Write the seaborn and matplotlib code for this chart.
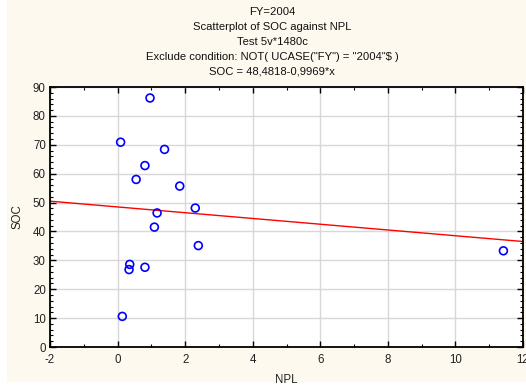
import matplotlib
matplotlib.use("Agg")
import matplotlib.pyplot as plt
import seaborn as sns
import numpy as np
import pandas as pd
from matplotlib.ticker import MultipleLocator
from matplotlib.patches import Rectangle

# Data
npl = [0.96, 0.09, 1.39, 0.81, 0.55, 1.84, 2.30, 1.17, 1.09, 2.39, 0.36, 0.34, 0.81, 0.14, 11.42]
soc = [86.2, 70.9, 68.4, 62.8, 58.0, 55.7, 48.1, 46.4, 41.5, 35.1, 28.6, 26.8, 27.6, 10.6, 33.3]
intercept = 48.4818
slope = -0.9969
title_lines = [
    "FY=2004",
    "Scatterplot of SOC against NPL",
    "Test 5v*1480c",
    'Exclude condition: NOT( UCASE("FY") = "2004"$ )',
    "SOC = 48,4818-0,9969*x",
]

df = pd.DataFrame({"NPL": npl, "SOC": soc})

sns.set_theme(style="white")
plt.rcParams["font.family"] = ["Liberation Sans", "DejaVu Sans"]
plt.rcParams["axes.unicode_minus"] = False

fig = plt.figure(figsize=(5.26, 3.87), dpi=100, facecolor="white")
fig.patches.append(Rectangle((7/526, 5/387), 1 - 7/526, 1 - 5/387, transform=fig.transFigure,
                             facecolor="#FDF9EE", edgecolor="none", zorder=-10))
ax = fig.add_axes([50/526, 1-347/387, 473/526, 260/387])
ax.set_facecolor("white")

xmin, xmax = -2, 12
xs = np.array([xmin, xmax])
ax.plot(xs, intercept + slope * xs, color="red", lw=1.0, zorder=2)

sns.scatterplot(data=df, x="NPL", y="SOC", ax=ax, marker="o", s=32,
                facecolors="none", edgecolor="#0000FF", linewidth=1.2, zorder=3)

ax.set_xlim(xmin, xmax)
ax.set_ylim(0, 90)
ax.xaxis.set_major_locator(MultipleLocator(2))
ax.xaxis.set_minor_locator(MultipleLocator(1))
ax.yaxis.set_major_locator(MultipleLocator(10))
ax.yaxis.set_minor_locator(MultipleLocator(2))
ax.grid(True, which="major", color="#D8D8D8", lw=1.0, zorder=0)
ax.set_axisbelow(True)

for sp in ax.spines.values():
    sp.set_color("black")
    sp.set_linewidth(1.3)
    sp.set_visible(True)

ax.tick_params(which="both", direction="in", top=True, right=True, bottom=True, left=True,
               colors="black", labelsize=8.3, labelcolor="#222222")
ax.tick_params(which="major", length=4, width=1)
ax.tick_params(which="minor", length=2, width=0.8)
ax.tick_params(axis="x", pad=5)
ax.tick_params(axis="y", pad=3)

ax.set_xlabel("NPL", fontsize=8.3, color="#222222", labelpad=6)
ax.set_ylabel("SOC", fontsize=8.3, color="#222222", labelpad=7)

for i, t in enumerate(title_lines):
    fig.text(272 / 526, 1 - (12 + 15 * i) / 387, t,
             ha="center", va="center", fontsize=8.1, color="#111111")

fig.savefig("out.png", dpi=100, facecolor=fig.get_facecolor())
